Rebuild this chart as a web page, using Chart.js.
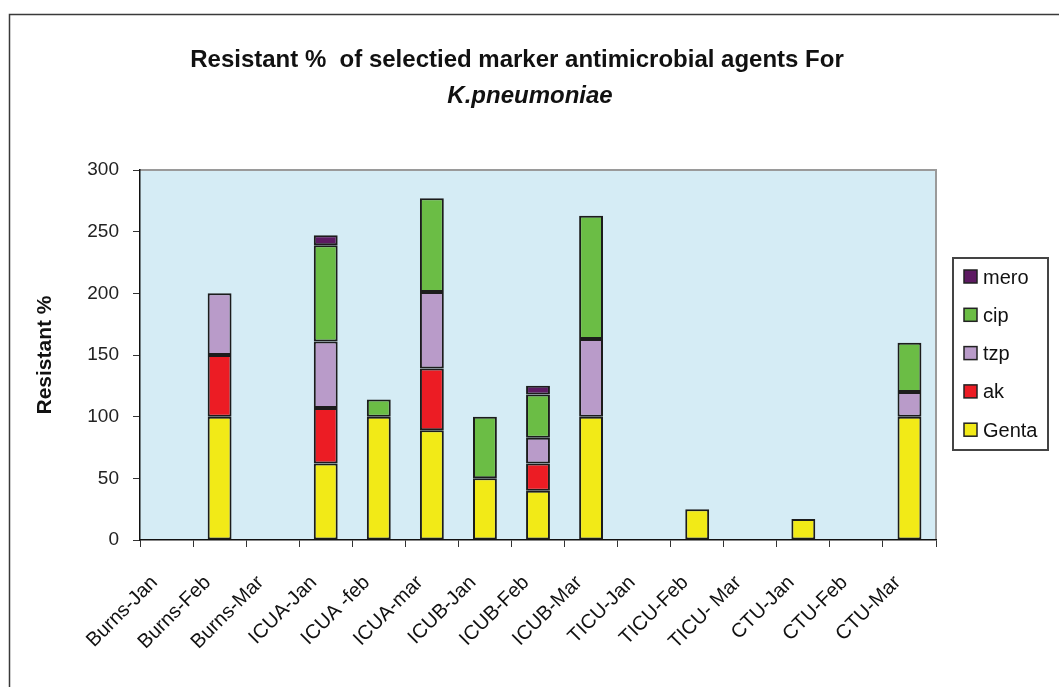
<!DOCTYPE html>
<html>
<head>
<meta charset="utf-8">
<script src="https://cdn.jsdelivr.net/npm/chart.js@4.4.0/dist/chart.umd.min.js"></script>
<style>
html, body { margin: 0; padding: 0; background: #fff; }
#wrap { position: relative; width: 1059px; height: 687px; }
</style>
</head>
<body>
<div id="wrap"><canvas id="grafico" width="1059" height="687"></canvas></div>
<script>
// dados (Resistant %)
const categorias = ['Burns-Jan', 'Burns-Feb', 'Burns-Mar', 'ICUA-Jan', 'ICUA -feb', 'ICUA-mar',
    'ICUB-Jan', 'ICUB-Feb', 'ICUB-Mar', 'TICU-Jan', 'TICU-Feb', 'TICU- Mar', 'CTU-Jan', 'CTU-Feb', 'CTU-Mar'];
const genta = [0, 100, 0, 62, 100, 89, 50, 40, 100, 0, 25, 0, 17, 0, 100];
const ak    = [0, 50, 0, 45, 0, 50, 0, 22, 0, 0, 0, 0, 0, 0, 0];
const tzp   = [0, 50, 0, 54, 0, 62, 0, 21, 63, 0, 0, 0, 0, 0, 20];
const cip   = [0, 0, 0, 78, 14, 76, 50, 35, 100, 0, 0, 0, 0, 0, 40];
const mero  = [0, 0, 0, 8, 0, 0, 0, 7, 0, 0, 0, 0, 0, 0, 0];
const seriesNomes = ['Genta', 'ak', 'tzp', 'cip', 'mero'];
const yMin = 0, yMax = 300, yPasso = 50;
const titulo1 = 'Resistant %  of selectied marker antimicrobial agents For';
const titulo2 = 'K.pneumoniae';
const tituloY = 'Resistant %';

const cores = ['#f2ea17', '#ec1c24', '#b99bc9', '#6bbd45', '#5d1a62'];
const fonte = '"Liberation Sans", Arial, sans-serif';

// fundo, moldura e fundo da área do gráfico
const fundoPlugin = {
    id: 'fundo',
    beforeDraw(chart) {
        const { ctx, chartArea: a } = chart;
        ctx.save();
        ctx.fillStyle = '#fff';
        ctx.fillRect(0, 0, chart.width, chart.height);
        ctx.strokeStyle = '#3a3a3a';
        ctx.lineWidth = 1.5;
        ctx.beginPath();
        ctx.moveTo(9.5, chart.height + 5);
        ctx.lineTo(9.5, 14.5);
        ctx.lineTo(chart.width + 5, 14.5);
        ctx.stroke();
        ctx.fillStyle = '#d5ecf5';
        ctx.fillRect(a.left, a.top, a.right - a.left, a.bottom - a.top);
        ctx.strokeStyle = '#9a9a9a';
        ctx.lineWidth = 2;
        ctx.beginPath();
        ctx.moveTo(a.left, a.top);
        ctx.lineTo(a.right, a.top);
        ctx.lineTo(a.right, a.bottom);
        ctx.stroke();
        ctx.restore();
    }
};

// título em duas linhas + legenda à direita
const textosPlugin = {
    id: 'textos',
    afterDraw(chart) {
        const { ctx } = chart;
        ctx.save();
        ctx.fillStyle = '#111';
        ctx.textAlign = 'center';
        ctx.textBaseline = 'middle';
        ctx.font = `bold 24px ${fonte}`;
        ctx.fillText(titulo1, 517, 60);
        ctx.font = `italic bold 24px ${fonte}`;
        ctx.fillText(titulo2, 530, 96);

        // legenda (ordem invertida, como no Excel)
        ctx.strokeStyle = '#444';
        ctx.lineWidth = 2;
        ctx.strokeRect(953, 258, 95, 192);
        ctx.textAlign = 'left';
        ctx.font = `20px ${fonte}`;
        const ds = chart.data.datasets;
        for (let i = ds.length - 1, k = 0; i >= 0; i--, k++) {
            const y = 277 + k * 38.3;
            ctx.fillStyle = ds[i].backgroundColor;
            ctx.fillRect(964, y - 7, 13, 13);
            ctx.strokeStyle = '#222';
            ctx.lineWidth = 1.5;
            ctx.strokeRect(964, y - 7, 13, 13);
            ctx.fillStyle = '#111';
            ctx.fillText(ds[i].label, 983, y + 1);
        }
        ctx.restore();
    }
};

const valores = [genta, ak, tzp, cip, mero];

new Chart(document.getElementById('grafico').getContext('2d'), {
    type: 'bar',
    data: {
        labels: categorias,
        datasets: seriesNomes.map((nome, i) => ({
            label: nome,
            data: valores[i],
            backgroundColor: cores[i],
            borderColor: '#1c1c1c',
            borderWidth: 2,
            borderSkipped: false,
            barPercentage: 0.45,
            categoryPercentage: 1
        }))
    },
    options: {
        responsive: false,
        animation: false,
        layout: { padding: { top: 170, right: 123, left: 0, bottom: 0 } },
        plugins: {
            legend: { display: false },
            title: { display: false },
            tooltip: { enabled: false }
        },
        scales: {
            x: {
                stacked: true,
                afterFit(scale) { scale.height = 147; },
                grid: { drawOnChartArea: false, drawTicks: true, tickLength: 7, color: '#333', offset: true },
                border: { display: true, color: '#111', width: 1.5 },
                ticks: {
                    autoSkip: false,
                    minRotation: 45,
                    maxRotation: 45,
                    padding: 24,
                    labelOffset: -12,
                    color: '#111',
                    font: { family: fonte, size: 20 }
                }
            },
            y: {
                stacked: true,
                min: yMin,
                max: yMax,
                afterFit(scale) { scale.width = 140; },
                grid: { drawOnChartArea: false, drawTicks: true, tickLength: 7, color: '#333' },
                border: { display: true, color: '#111', width: 1.5 },
                ticks: {
                    stepSize: yPasso,
                    padding: 14,
                    color: '#222',
                    font: { family: fonte, size: 19 }
                },
                title: {
                    display: true,
                    text: tituloY,
                    color: '#111',
                    font: { family: fonte, size: 21, weight: 'bold' },
                    padding: { top: 33, bottom: 0 }
                }
            }
        }
    },
    plugins: [fundoPlugin, textosPlugin]
});
</script>
</body>
</html>
